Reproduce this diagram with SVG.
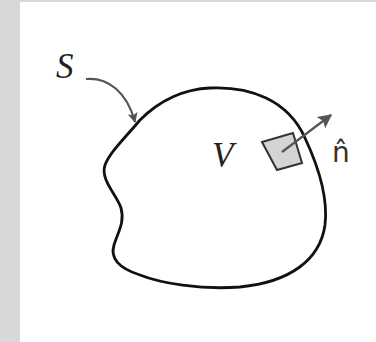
<svg xmlns="http://www.w3.org/2000/svg" width="376" height="342" viewBox="0 0 376 342">
<style>
.lbl{font-family:"Liberation Serif","Times New Roman",serif;font-style:italic;font-size:35px;fill:#222}
.hat{font-family:"DejaVu Sans",sans-serif;font-size:28px;fill:#333}
.conn{fill:none;stroke:#555;stroke-width:2.2}
</style>
<defs>
<marker id="ah" viewBox="0 0 10 10" refX="9" refY="5" markerWidth="14" markerHeight="10" orient="auto" markerUnits="userSpaceOnUse">
<path d="M0,0 L10,5 L0,10 L2,5 z" fill="#555"/>
</marker>
<marker id="ah2" viewBox="0 0 10 10" refX="9" refY="5" markerWidth="18" markerHeight="14" orient="auto" markerUnits="userSpaceOnUse">
<path d="M0,0 L10,5 L0,10 L2,5 z" fill="#555"/>
</marker>
</defs>
<rect x="0" y="0" width="376" height="342" fill="#fff"/>
<rect x="0" y="0" width="20" height="342" fill="#d8d8d8"/>
<rect x="0" y="0" width="376" height="2" fill="#d8d8d8"/>
<g id="surface">
<path d="M210 88 C250 86 288 100 305 138 C320 170 328 200 325 225 C320 260 290 282 240 287 C200 290 160 283 140 275 C118 268 110 258 114 245 C118 232 125 222 121 208 C117 195 100 180 105 165 C110 152 125 138 140 120 C160 100 185 89 210 88 Z" fill="none" stroke="#111" stroke-width="2.8" stroke-linejoin="round"/>
</g>
<g id="patch">
<path d="M262 142 L293 133 L302 163 L277 170 Z" fill="#d4d4d4" stroke="#333" stroke-width="2"/>
</g>
<g id="label-S"><text class="lbl" x="56" y="78">S</text></g>
<g id="label-V"><text class="lbl" x="212" y="167">V</text></g>
<g id="label-n"><text class="hat" x="332" y="162">n̂</text></g>
<g id="connectors">
<path class="conn" d="M86 79 C108 77 127 92 135 122" marker-end="url(#ah)"/>
<path class="conn" d="M282 152 L331 115" stroke-width="2.6" marker-end="url(#ah2)"/>
</g>
</svg>
